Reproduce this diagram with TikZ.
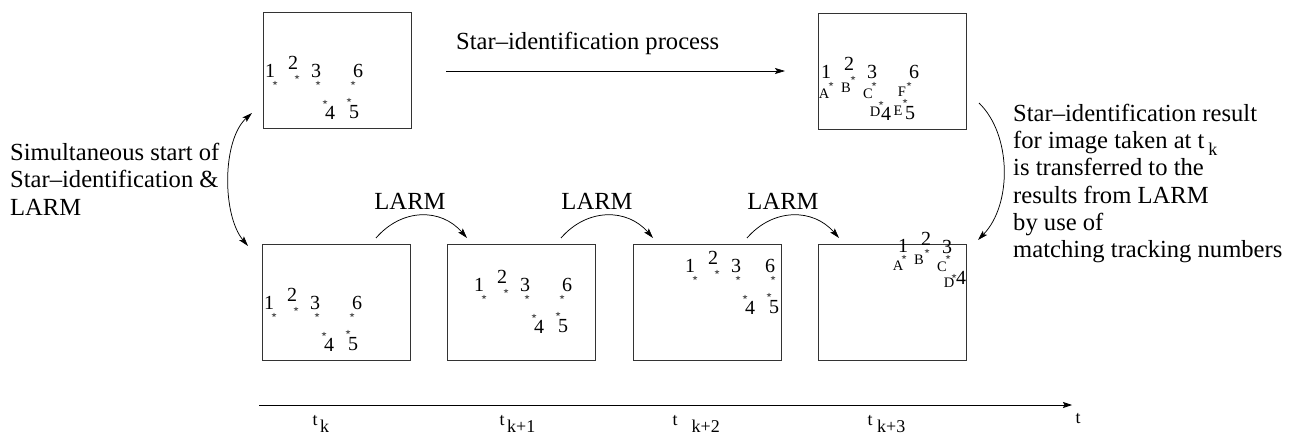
\documentclass[tikz,border=0pt]{standalone}
\usepackage{fontspec}
\setmainfont{Liberation Serif}
\usetikzlibrary{arrows.meta,shapes.geometric}

% six numbered stars in the standard layout, relative to origin (#2,#3);
% #4 is the horizontal offset of label 6
\newcommand\skyfield[4]{%
  \foreach \k/\dx/\dy in {1/7/59, 2/30/51, 3/53/59, 4/67/101, 5/91/100}
    \node[num] (#1n\k) at ({#2+\dx},{#3+\dy}) {\k};
  \node[num] (#1n6) at ({#2+#4},{#3+59}) {6};
  \foreach \k/\dx/\dy in {1/12/71, 2/34/65, 3/55/71, 6/90/71, 4/62/90, 5/86/88}
    \node[st] (#1s\k) at ({#2+\dx},{#3+\dy}) {};
}

\begin{document}
\begin{tikzpicture}[x=1pt,y=-1pt,
  frame/.style={draw=black!80, line width=0.9pt, minimum width=148pt,
    minimum height=116pt, inner sep=0pt, anchor=north west},
  txt/.style={font=\fontsize{24.6}{27}\selectfont, inner sep=0pt, anchor=base west},
  num/.style={font=\fontsize{20}{20}\selectfont, inner sep=0pt},
  lbl/.style={font=\fontsize{14.5}{15}\selectfont, inner sep=0pt},
  st/.style={star, star points=5, star point ratio=2.3, fill=black!65,
    minimum size=5pt, inner sep=0pt},
  tlab/.style={font=\fontsize{18}{18}\selectfont, inner sep=0pt, anchor=base west},
  conn/.style={line width=0.75pt, -{Stealth[length=10pt,width=6pt,inset=2pt]}},
  conn2/.style={line width=0.75pt,
    {Stealth[length=10pt,width=6pt,inset=2pt]}-{Stealth[length=10pt,width=6pt,inset=2pt]}},
]
\useasboundingbox (0,0) rectangle (1295,436);

% image frames
\node[frame] (tl) at (263,12) {};
\node[frame] (tr) at (818,13) {};
\node[frame] (b1) at (262,244) {};
\node[frame] (b2) at (447,244) {};
\node[frame] (b3) at (633,244) {};
\node[frame] (b4) at (818,244) {};

% star fields
\skyfield{tl}{263}{12}{95}
\skyfield{tr}{819}{13}{95}
\skyfield{bo}{262}{244}{95}
\skyfield{bt}{472}{226}{95}
\skyfield{bh}{683}{207}{87}

% identified stars
\foreach \k/\x/\y in {A/824/94, B/846/88, C/868/94, D/875/112, E/898/111, F/902/92}
  \node[lbl] (trl\k) at (\x,\y) {\k};

% shifted field after LARM tracking
\foreach \k/\x/\y in {1/903/246, 2/926/239, 3/947/247, 4/961/278}
  \node[num] (b4n\k) at (\x,\y) {\k};
\foreach \k/\x/\y in {1/904/257, 2/927/251, 3/948/257, 4/954/276}
  \node[st] (b4s\k) at (\x,\y) {};
\foreach \k/\x/\y in {A/898/266, B/919/260, C/942/267, D/949/283}
  \node[lbl] (b4l\k) at (\x,\y) {\k};

% star identification
\coordinate (pa) at (446,71);
\coordinate (pb) at (785,71);
\draw[conn] (pa) -- (pb);
\node[txt] (proc) at (456,50) {Star–identification process};

% simultaneous start
\coordinate (sa) at (252,113);
\coordinate (sb) at (248,246);
\draw[conn2] (sa) .. controls (222,140) and (222,215) .. (sb);
\node[txt] (s1) at (10,160) {Simultaneous start of};
\node[txt] (s2) at (10,187.5) {Star–identification \&};
\node[txt] (s3) at (10,215) {LARM};

% result transfer
\coordinate (ra) at (979,103);
\coordinate (rb) at (978,240);
\draw[conn] (ra) .. controls (1012,135) and (1012,205) .. (rb);
\node[txt] (r1) at (1013,121.5) {Star–identification result};
\node[txt] (r2) at (1013,148.7) {for image taken at t\hspace{4pt}\raisebox{-6.5pt}{\fontsize{18}{18}\selectfont k}};
\node[txt] (r3) at (1013,175.9) {is transferred to the};
\node[txt] (r4) at (1013,203.1) {results from LARM};
\node[txt] (r5) at (1013,230.3) {by use of};
\node[txt] (r6) at (1013,257.5) {matching tracking numbers};

% LARM steps
\foreach \i/\xa/\xb/\xm in {1/376/467/410, 2/561/653/597, 3/747/839/783} {
  \coordinate (la\i) at (\xa,238);
  \coordinate (lb\i) at (\xb,238);
  \draw[conn] (la\i) .. controls ({\xa+26},208) and ({\xb-26},208) .. (lb\i);
  \node[txt, anchor=base] (larm\i) at (\xm,209.5) {LARM};
}

% time axis
\coordinate (ta) at (259,405);
\coordinate (tb) at (1072,405);
\draw[line width=0.75pt, -{Stealth[length=9pt,width=6pt,inset=1.5pt]}] (ta) -- (tb);
\node[tlab] (t0) at (312.5,425) {t\hspace{2.5pt}\raisebox{-7pt}{k}};
\node[tlab] (t1) at (499.5,425) {t\hspace{2.5pt}\raisebox{-7pt}{k+1}};
\node[tlab] (t2) at (672.5,425) {t\hspace{14pt}\raisebox{-7pt}{k+2}};
\node[tlab] (t3) at (867.5,425) {t\hspace{4.5pt}\raisebox{-7pt}{k+3}};
\node[tlab, anchor=base] (tt) at (1078,423) {t};
\end{tikzpicture}
\end{document}
